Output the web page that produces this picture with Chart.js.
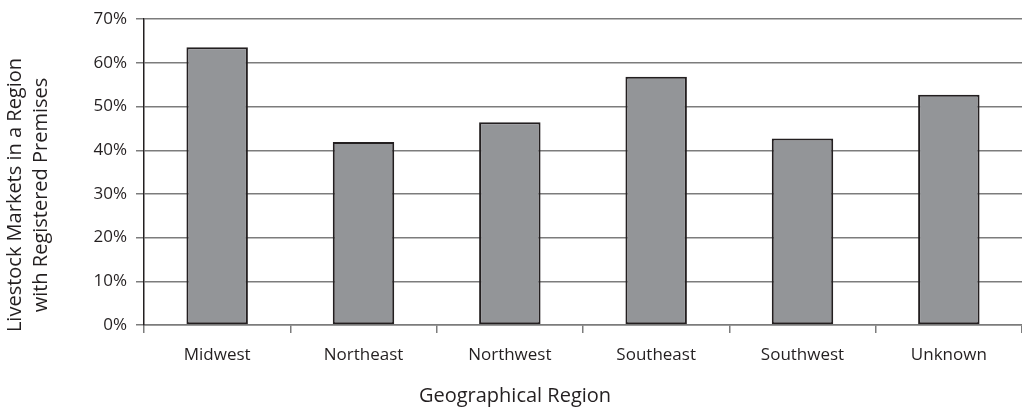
<!DOCTYPE html>
<html>
<head>
<meta charset="utf-8">
<title>Livestock Markets with Registered Premises</title>
<script src="https://cdn.jsdelivr.net/npm/chart.js@4/dist/chart.umd.min.js"></script>
<style>
  html, body { margin: 0; padding: 0; background: #ffffff; }
  #chart { display: block; }
</style>
</head>
<body>
<canvas id="chart" width="1022" height="409"></canvas>
<script>
// Share of livestock markets in each region that have registered premises
const regions = ['Midwest', 'Northeast', 'Northwest', 'Southeast', 'Southwest', 'Unknown'];
const shareRegistered = [0.636, 0.419, 0.464, 0.568, 0.427, 0.527];
const yTickValues = [0, 0.1, 0.2, 0.3, 0.4, 0.5, 0.6, 0.7];
const xAxisTitle = 'Geographical Region';
const yAxisTitle = ['Livestock Markets in a Region', 'with Registered Premises'];

const ink = '#231f20';
const gridGray = '#7c7c7c';
const fontFamily = "'Open Sans', 'DejaVu Sans', sans-serif";

// Axis titles sit centred on the whole figure rather than on the plot area
const axisTitles = {
  id: 'axisTitles',
  afterDraw(chart, args, opts) {
    const ctx = chart.ctx;
    ctx.save();
    ctx.fillStyle = ink;
    ctx.font = opts.size + 'px ' + fontFamily;
    ctx.textAlign = 'center';
    ctx.textBaseline = 'middle';
    ctx.fillText(xAxisTitle, opts.xCenter, opts.xTitleY);
    ctx.translate(opts.yTitleX, opts.yCenter);
    ctx.rotate(-Math.PI / 2);
    yAxisTitle.forEach((line, i) => {
      ctx.fillText(line, 0, i * opts.lineGap);
    });
    ctx.restore();
  }
};

new Chart(document.getElementById('chart'), {
  type: 'bar',
  data: {
    labels: regions,
    datasets: [{
      data: shareRegistered,
      backgroundColor: '#939598',
      borderColor: ink,
      borderWidth: 2,
      borderSkipped: false,
      categoryPercentage: 1,
      barPercentage: 0.42
    }]
  },
  plugins: [axisTitles],
  options: {
    responsive: false,
    animation: false,
    layout: { padding: { top: 17, right: 0, bottom: 0, left: 0 } },
    plugins: {
      legend: { display: false },
      tooltip: { enabled: false },
      axisTitles: {
        size: 20,
        xCenter: 515,
        xTitleY: 396,
        yTitleX: 15,
        yCenter: 195,
        lineGap: 26
      }
    },
    scales: {
      x: {
        grid: {
          offset: true,
          drawOnChartArea: false,
          drawTicks: true,
          tickLength: 8,
          color: gridGray,
          lineWidth: 1.5
        },
        border: { display: true, color: gridGray, width: 1.5 },
        ticks: {
          color: ink,
          padding: 12,
          maxRotation: 0,
          font: { family: fontFamily, size: 17 }
        },
        afterFit: (scale) => { scale.height = 84; }
      },
      y: {
        min: 0,
        max: 0.7,
        afterBuildTicks: (scale) => {
          scale.ticks = yTickValues.map(v => ({ value: v }));
        },
        grid: {
          color: gridGray,
          lineWidth: 1.5,
          drawTicks: true,
          tickLength: 8
        },
        border: { display: true, color: ink, width: 1.5 },
        ticks: {
          color: ink,
          padding: 9,
          font: { family: fontFamily, size: 17 },
          callback: (v) => Math.round(v * 100) + '%'
        },
        afterFit: (scale) => { scale.width = 144; }
      }
    }
  }
});
</script>
</body>
</html>
